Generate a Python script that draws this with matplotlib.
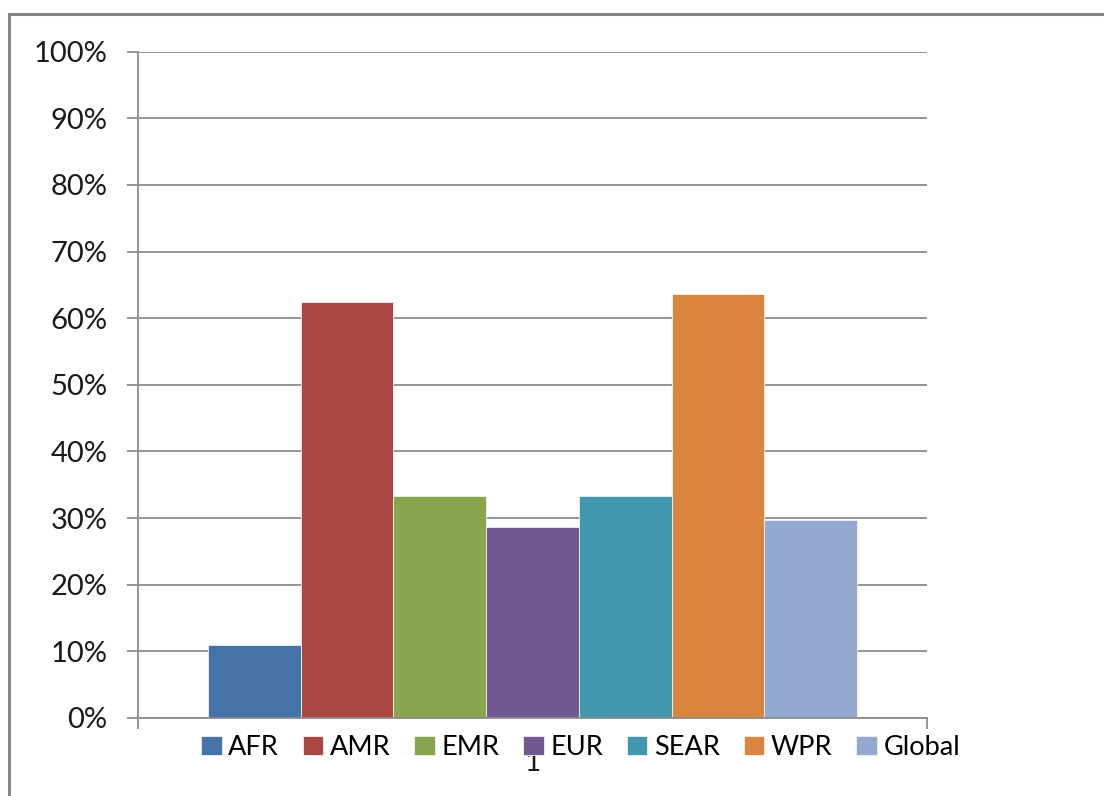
import matplotlib
matplotlib.use('Agg')
from matplotlib import pyplot as plt
from matplotlib.patches import Rectangle
from matplotlib.ticker import PercentFormatter

# regions and their share
regions = ['AFR', 'AMR', 'EMR', 'EUR', 'SEAR', 'WPR', 'Global']
shares = [0.109, 0.625, 0.333, 0.287, 0.333, 0.637, 0.297]
colors = ['#4572A7', '#AA4643', '#89A54E', '#71588F', '#4198AF', '#DB843D', '#93A9CF']
category_label = '1'
y_ticks = [0, 0.1, 0.2, 0.3, 0.4, 0.5, 0.6, 0.7, 0.8, 0.9, 1.0]

plt.rcParams['font.family'] = ['Lato', 'DejaVu Sans']
grey = '#8C8C8C'

fig = plt.figure(figsize=(11.04, 7.96), dpi=100)
ax = fig.add_axes([0.125, 0.098, 0.7147, 0.837])

for i, (name, val, col) in enumerate(zip(regions, shares, colors)):
    ax.bar(i, val, width=1.0, color=col, edgecolor='#F2F2F2', linewidth=0.6,
           label=name, zorder=3)

pad = 0.755
x_lo, x_hi = -0.5 - pad, len(regions) - 0.5 + pad
ax.set_xlim(x_lo, x_hi)
ax.set_ylim(0, 1)

ax.set_yticks(y_ticks)
ax.yaxis.set_major_formatter(PercentFormatter(1.0, decimals=0))
ax.yaxis.grid(True, color=grey, linewidth=1.3, zorder=0)
ax.tick_params(axis='y', length=8, width=1.3, color=grey, labelsize=21,
               labelcolor='#1A1A1A', pad=14)

ax.set_xticks([(x_lo + x_hi) / 2])
ax.set_xticklabels([category_label])
ax.set_xticks([x_lo, x_hi], minor=True)
ax.tick_params(axis='x', which='major', length=0, labelsize=20, pad=23,
               labelcolor='#1A1A1A')
ax.tick_params(axis='x', which='minor', length=8, width=1.3, color=grey)

for side in ['top', 'right']:
    ax.spines[side].set_visible(False)
for side in ['left', 'bottom']:
    ax.spines[side].set_color(grey)
    ax.spines[side].set_linewidth(1.3)
ax.spines['bottom'].set_zorder(4)

leg = fig.legend(loc='center', bbox_to_anchor=(0.526, 0.061), ncol=7,
                 frameon=False, fontsize=19.5, handlelength=0.75, handleheight=0.75,
                 handletextpad=0.25, columnspacing=0.88, borderaxespad=0)
for h in leg.legend_handles:
    h.set_edgecolor('#F2F2F2')

# outer chart frame (right/bottom edges cut off in the reference)
fig.patches.append(Rectangle((9 / 1104, -0.1), 1.2, 1.1 - 14 / 796,
                             transform=fig.transFigure, fill=False,
                             edgecolor='#858585', linewidth=2.2))

fig.savefig('out.png', dpi=100)
